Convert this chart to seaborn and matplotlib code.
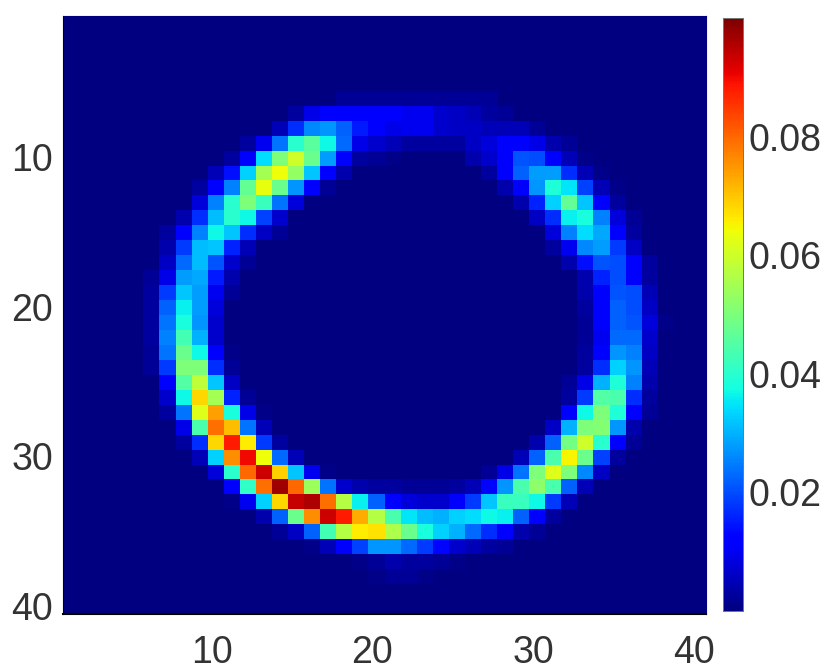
import numpy as np
import pandas as pd
import matplotlib
matplotlib.use("Agg")
import matplotlib.pyplot as plt
import seaborn as sns
from matplotlib.transforms import ScaledTranslation

# values, in thousandths, 40 rows x 40 columns
blank = [0] * 40
density = [
    blank, blank, blank, blank, blank,
    [0,0,0,0,0,0,0,0,0,0, 0,0,0,0,0,0,0,2,2,2, 2,2,2,2,2,2,2,0,0,0, 0,0,0,0,0,0,0,0,0,0],
    [0,0,0,0,0,0,0,0,0,0, 0,0,0,0,3,9,11,11,11,11, 11,10,10,7,6,5,3,2,0,0, 0,0,0,0,0,0,0,0,0,0],
    [0,0,0,0,0,0,0,0,0,0, 0,0,0,5,17,26,27,22,15,11, 9,10,10,7,6,6,5,5,5,2, 0,0,0,0,0,0,0,0,0,0],
    [0,0,0,0,0,0,0,0,0,0, 0,3,10,24,40,46,37,23,9,7, 5,3,3,3,3,6,8,11,11,9, 4,2,0,0,0,0,0,0,0,0],
    [0,0,0,0,0,0,0,0,0,0, 3,11,34,50,60,48,28,12,3,2, 1,0,0,0,0,4,7,12,21,20, 11,5,1,0,0,0,0,0,0,0],
    [0,0,0,0,0,0,0,0,0,5, 14,33,55,64,53,32,11,4,0,0, 0,0,0,0,0,0,3,11,22,28, 28,17,5,1,0,0,0,0,0,0],
    [0,0,0,0,0,0,0,0,3,11, 25,47,63,48,27,11,2,0,0,0, 0,0,0,0,0,0,0,4,12,27, 39,35,19,5,1,0,0,0,0,0],
    [0,0,0,0,0,0,0,0,8,25, 40,50,42,24,8,0,0,0,0,0, 0,0,0,0,0,0,0,0,4,16, 33,47,32,12,3,0,0,0,0,0],
    [0,0,0,0,0,0,0,4,17,31, 40,37,19,7,0,0,0,0,0,0, 0,0,0,0,0,0,0,0,0,6, 17,36,38,25,8,2,0,0,0,0],
    [0,0,0,0,0,0,3,11,25,37, 32,17,6,2,0,0,0,0,0,0, 0,0,0,0,0,0,0,0,0,0, 8,25,34,29,11,3,0,0,0,0],
    [0,0,0,0,0,0,4,18,31,32, 16,5,0,0,0,0,0,0,0,0, 0,0,0,0,0,0,0,0,0,0, 3,10,26,28,18,6,0,0,0,0],
    [0,0,0,0,0,0,6,23,31,21, 7,2,0,0,0,0,0,0,0,0, 0,0,0,0,0,0,0,0,0,0, 0,4,14,21,20,11,3,0,0,0],
    [0,0,0,0,0,2,9,28,29,15, 4,0,0,0,0,0,0,0,0,0, 0,0,0,0,0,0,0,0,0,0, 0,0,4,16,20,12,3,0,0,0],
    [0,0,0,0,0,3,18,32,28,10, 2,0,0,0,0,0,0,0,0,0, 0,0,0,0,0,0,0,0,0,0, 0,0,4,11,21,20,5,0,0,0],
    [0,0,0,0,0,3,22,36,28,8, 0,0,0,0,0,0,0,0,0,0, 0,0,0,0,0,0,0,0,0,0, 0,0,3,11,22,20,6,0,0,0],
    [0,0,0,0,0,3,24,38,27,7, 0,0,0,0,0,0,0,0,0,0, 0,0,0,0,0,0,0,0,0,0, 0,0,2,11,22,21,8,1,0,0],
    [0,0,0,0,0,3,25,43,30,7, 0,0,0,0,0,0,0,0,0,0, 0,0,0,0,0,0,0,0,0,0, 0,0,2,10,23,23,7,0,0,0],
    [0,0,0,0,0,2,24,48,37,11, 1,0,0,0,0,0,0,0,0,0, 0,0,0,0,0,0,0,0,0,0, 0,0,3,12,27,25,6,0,0,0],
    [0,0,0,0,0,2,18,50,50,17, 2,0,0,0,0,0,0,0,0,0, 0,0,0,0,0,0,0,0,0,0, 0,0,3,17,33,27,5,0,0,0],
    [0,0,0,0,0,0,12,45,58,32, 6,0,0,0,0,0,0,0,0,0, 0,0,0,0,0,0,0,0,0,0, 0,2,9,30,39,25,4,0,0,0],
    [0,0,0,0,0,0,7,37,68,55, 16,2,0,0,0,0,0,0,0,0, 0,0,0,0,0,0,0,0,0,0, 0,3,18,45,44,17,3,0,0,0],
    [0,0,0,0,0,0,3,24,62,74, 38,9,1,0,0,0,0,0,0,0, 0,0,0,0,0,0,0,0,0,0, 0,11,37,50,39,11,2,0,0,0],
    [0,0,0,0,0,0,0,9,44,79, 71,24,5,0,0,0,0,0,0,0, 0,0,0,0,0,0,0,0,0,0, 6,30,50,51,27,4,0,0,0,0],
    [0,0,0,0,0,0,0,3,17,68, 88,66,18,3,0,0,0,0,0,0, 0,0,0,0,0,0,0,0,0,4, 22,49,60,40,12,2,0,0,0,0],
    [0,0,0,0,0,0,0,0,5,33, 76,90,64,23,5,0,0,0,0,0, 0,0,0,0,0,0,0,0,5,22, 44,65,48,19,3,0,0,0,0,0],
    [0,0,0,0,0,0,0,0,0,8, 40,80,93,69,32,10,1,0,0,0, 0,0,0,0,0,0,2,9,24,50, 62,50,26,6,0,0,0,0,0,0],
    [0,0,0,0,0,0,0,0,0,0, 11,41,79,97,80,54,24,7,4,3, 3,2,2,2,3,5,13,27,44,52, 44,22,5,0,0,0,0,0,0,0],
    [0,0,0,0,0,0,0,0,0,0, 1,10,33,68,94,96,79,57,36,22, 11,8,7,7,11,18,32,42,42,37, 18,5,0,0,0,0,0,0,0,0],
    [0,0,0,0,0,0,0,0,0,0, 0,0,4,22,48,76,93,88,73,57, 44,35,31,30,33,34,37,36,22,11, 3,0,0,0,0,0,0,0,0,0],
    [0,0,0,0,0,0,0,0,0,0, 0,0,0,2,6,22,43,57,66,67, 56,48,38,33,30,23,17,11,4,2, 0,0,0,0,0,0,0,0,0,0],
    [0,0,0,0,0,0,0,0,0,0, 0,0,0,0,0,1,5,11,19,27, 27,23,18,13,7,5,3,2,0,0, 0,0,0,0,0,0,0,0,0,0],
    [0,0,0,0,0,0,0,0,0,0, 0,0,0,0,0,0,0,0,1,2, 4,3,3,2,1,0,0,0,0,0, 0,0,0,0,0,0,0,0,0,0],
    [0,0,0,0,0,0,0,0,0,0, 0,0,0,0,0,0,0,0,0,1, 2,2,1,0,0,0,0,0,0,0, 0,0,0,0,0,0,0,0,0,0],
    blank, blank,
]
axis_ticks = [5, 10, 15, 20, 25, 30, 35, 40]
axis_labels = ["", "10", "", "20", "", "30", "", "40"]
cbar_ticks = [0.02, 0.04, 0.06, 0.08]

W, H = 824, 672
TEXT = "#333333"
sns.set_style("white")
plt.rcParams["font.family"] = ["Liberation Sans", "DejaVu Sans"]

df = pd.DataFrame(np.array(density) / 1000.0,
                  index=range(1, 41), columns=range(1, 41))

fig = plt.figure(figsize=(W / 100, H / 100), dpi=100)
ax = fig.add_axes([63 / W, 1 - 614 / H, (706 - 63) / W, (614 - 16) / H])
cax = fig.add_axes([723 / W, 1 - 611 / H, 20 / W, (611 - 18) / H])

sns.heatmap(df, ax=ax, cbar_ax=cax, cmap="jet", vmin=0, vmax=0.1, square=False)

tick_pos = [t - 0.5 for t in axis_ticks]
ax.set_xticks(tick_pos)
ax.set_xticklabels(axis_labels, rotation=0)
ax.set_yticks(tick_pos)
ax.set_yticklabels(axis_labels, rotation=0)
ax.tick_params(axis="both", direction="in", length=6, width=0.8, color="#00004d",
               top=True, right=True, left=True, bottom=True,
               labelsize=27, labelcolor=TEXT)
ax.tick_params(axis="x", pad=15)
ax.tick_params(axis="y", pad=7)

# labels sit a few pixels off their ticks in the original
for lab in ax.get_xticklabels():
    lab.set_transform(lab.get_transform() + ScaledTranslation(-4 / 100, 0, fig.dpi_scale_trans))
for lab in ax.get_yticklabels():
    lab.set_transform(lab.get_transform() + ScaledTranslation(0, -3 / 100, fig.dpi_scale_trans))

for side, spine in ax.spines.items():
    spine.set_visible(True)
    spine.set_color("black" if side in ("left", "bottom") else "#00007f")
    spine.set_linewidth(1.5 if side == "bottom" else 0.8)

cax.set_yticks(cbar_ticks)
cax.set_yticklabels([f"{t:.2f}" for t in cbar_ticks])
cax.tick_params(axis="y", direction="in", length=5, width=0.8, color="#333333",
                right=True, left=False, labelsize=27, labelcolor=TEXT, pad=4)
for spine in cax.spines.values():
    spine.set_visible(True)
    spine.set_color("#777777")
    spine.set_linewidth(0.7)

fig.savefig("out.png", dpi=100)
